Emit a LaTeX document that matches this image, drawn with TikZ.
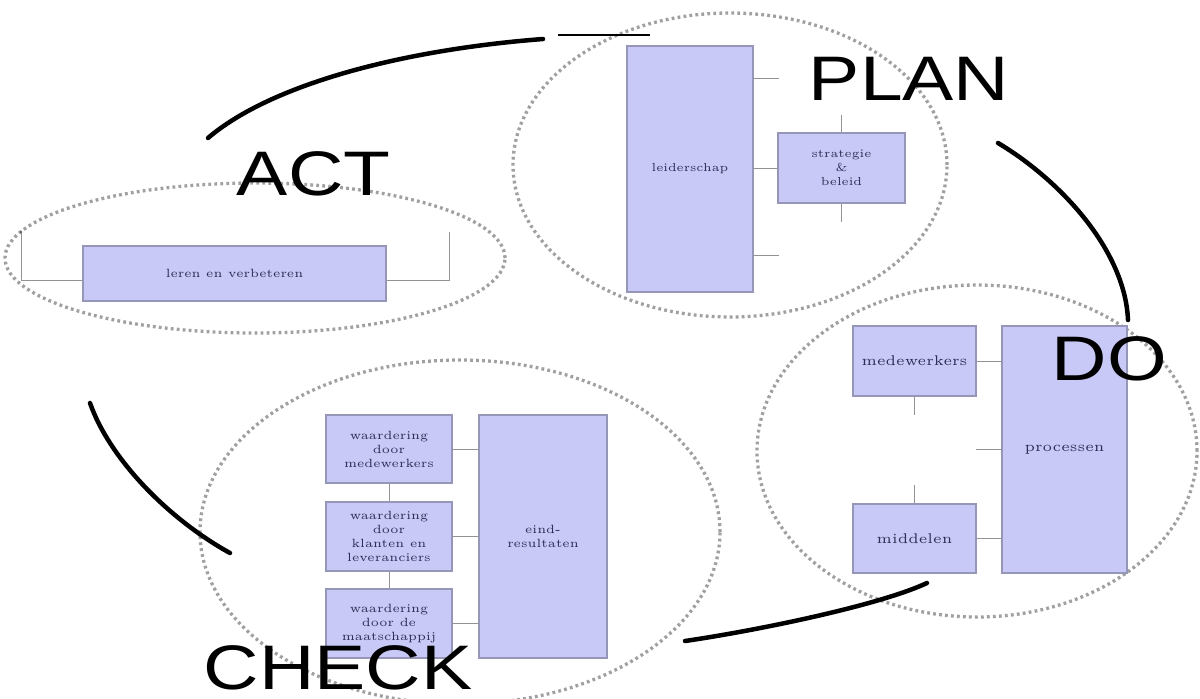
\documentclass[tikz,border=0pt]{standalone}
\usepackage{fontspec}
\newfontfamily\bigsans{Liberation Sans}
\usepackage{xcolor}
\usepackage{tikz}
\definecolor{boxfill}{RGB}{201,201,247}
\definecolor{boxline}{RGB}{150,150,182}
\definecolor{boxtext}{RGB}{45,45,85}
\definecolor{ringgray}{RGB}{160,160,160}
\tikzset{blok/.style={draw=boxline, fill=boxfill, text=boxtext, align=center, inner sep=0pt,
           font=\fontsize{3.4}{4}\selectfont},
         dotekst/.style={font=\fontsize{4}{4.3}\selectfont},
         plantekst/.style={font=\fontsize{3.3}{4}\selectfont},
         link/.style={draw=gray!85, line width=0.1mm},
         ring/.style={draw=ringgray, line width=0.33mm, dash pattern=on 0.28mm off 0.32mm},
         pdcaarc/.style={line width=0.45mm, line cap=round},
         phase/.style={font=\bigsans\fontsize{17.9}{18}\selectfont, xscale=1.22,
           anchor=base west, inner sep=0pt}}

\begin{document}
\begin{tikzpicture}[x=0.1mm, y=-0.1mm]
\useasboundingbox (0,0) rectangle (1200,698);
\draw[ring] (255,258) ellipse [x radius=25mm, y radius=7.5mm];
\draw[ring] (730,165) ellipse [x radius=21.7mm, y radius=15.2mm];
\draw[ring] (977,451) ellipse [x radius=22mm, y radius=16.6mm];
\draw[ring] (460,532) ellipse [x radius=26mm, y radius=17.2mm];

\node[blok, minimum width=30.3mm, minimum height=5.5mm] (leren) at (234.5,273.5) {leren en verbeteren};
\coordinate (actl) at (21,232);
\coordinate (actr) at (449,232);
\draw[link] ([yshift=-0.65mm]leren.west) -| (actl);
\draw[link] ([yshift=-0.65mm]leren.east) -| (actr);
\fill[gray!60!black] (actl) circle (0.12mm);

\node[blok, plantekst, minimum width=12.6mm, minimum height=24.6mm] (leider) at (690,169) {leiderschap};
\node[blok, plantekst, minimum width=12.7mm, minimum height=7mm] (strat) at (841.5,168) {strategie\\\&\\beleid};
\coordinate (pl1) at (779,78);
\coordinate (pl3) at (779,255);
\coordinate (st1) at (841.5,115);
\coordinate (st2) at (841.5,222);
\draw[link] (pl1 -| leider.east) -- (pl1);
\draw[link] (leider.east |- strat.west) -- (strat.west);
\draw[link] (pl3 -| leider.east) -- (pl3);
\draw[link] (strat.north) -- (st1);
\draw[link] (strat.south) -- (st2);

\node[blok, dotekst, minimum width=12.3mm, minimum height=7mm] (medew) at (914.5,361) {medewerkers};
\node[blok, dotekst, minimum width=12.5mm, minimum height=24.7mm] (proc) at (1064.5,449.5) {processen};
\node[blok, dotekst, minimum width=12.3mm, minimum height=6.9mm] (midd) at (914.5,538.5) {middelen};
\coordinate (do1) at (976,449.5);
\coordinate (do2) at (914.5,415);
\coordinate (do3) at (914.5,485);
\draw[link] (medew.east) -- (medew.east -| proc.west);
\draw[link] (midd.east) -- (midd.east -| proc.west);
\draw[link] (proc.west) -- (do1);
\draw[link] (medew.south) -- (do2);
\draw[link] (midd.north) -- (do3);

\node[blok, minimum width=12.6mm, minimum height=6.8mm] (wmed) at (389,449) {waardering\\door\\medewerkers};
\node[blok, minimum width=12.6mm, minimum height=6.9mm] (wkla) at (389,536.5) {waardering\\door\\klanten en\\leveranciers};
\node[blok, minimum width=12.6mm, minimum height=6.9mm] (wmaa) at (389,623.5) {waardering\\door de\\maatschappij};
\node[blok, minimum width=12.8mm, minimum height=24.3mm] (eind) at (543,536.5) {eind-\\resultaten};
\draw[link] (wmed.east) -- (wmed.east -| eind.west);
\draw[link] (wkla.east) -- (wkla.east -| eind.west);
\draw[link] (wmaa.east) -- (wmaa.east -| eind.west);
\draw[link] (wmed.south) -- (wkla.north);
\draw[link] (wkla.south) -- (wmaa.north);

\coordinate (a1) at (208,138);
\coordinate (a2) at (543,39);
\coordinate (t1) at (558,35);
\coordinate (t2) at (650,35);
\coordinate (p1) at (998,143);
\coordinate (p2) at (1128,320);
\coordinate (d1) at (927,583);
\coordinate (d2) at (685,641);
\coordinate (c1) at (230,553);
\coordinate (c2) at (90,403);
\draw[pdcaarc] (a1) .. controls (270,85) and (400,50) .. (a2);
\draw[line width=0.12mm] (t1) -- (t2);
\draw[pdcaarc] (p1) .. controls (1060,180) and (1125,250) .. (p2);
\draw[pdcaarc] (d1) .. controls (880,605) and (760,630) .. (d2);
\draw[pdcaarc] (c1) .. controls (170,520) and (110,460) .. (c2);

\node[phase] (act) at (236,195) {ACT};
\node[phase] (plan) at (808,100) {PLAN};
\node[phase] (do) at (1051,380) {DO};
\node[phase] (check) at (203,689) {CHECK};
\end{tikzpicture}
\end{document}
